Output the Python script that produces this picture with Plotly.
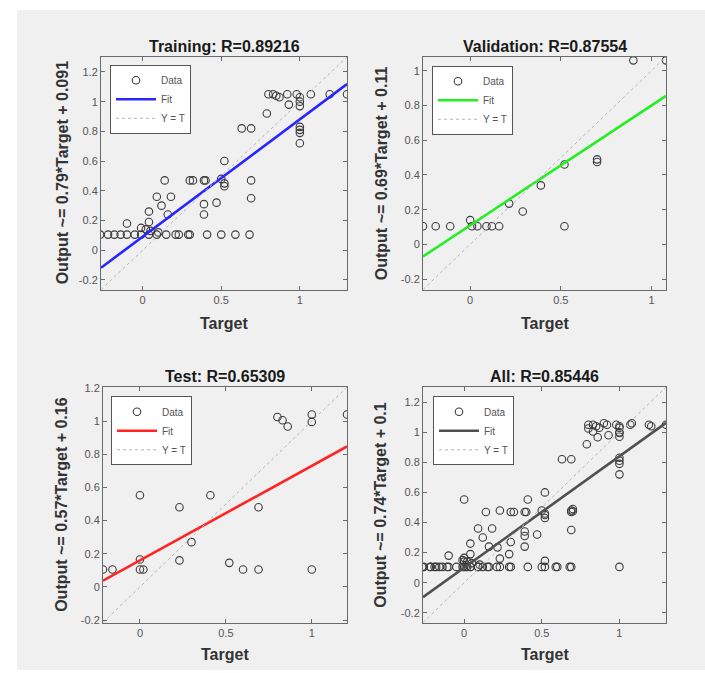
import numpy as np
import plotly.graph_objects as go

# ---------------- data ----------------
train_t = [-0.27, -0.22, -0.18, -0.14, -0.10, -0.05, -0.01, 0.04, 0.09, 0.15, 0.21, 0.23, 0.29, 0.30, 0.41, 0.50, 0.59, 0.68,
           -0.10, -0.01, 0.02, 0.05, 0.10, 0.04, 0.04, 0.09, 0.12, 0.16, 0.18, 0.14, 0.30, 0.32, 0.39, 0.40,
           0.52, 0.50, 0.52, 0.52, 0.69, 0.69, 0.39, 0.39, 0.47, 0.63, 0.69, 0.79, 0.80, 0.83, 0.85, 0.87,
           0.92, 0.93, 0.98, 1.00, 1.00, 1.00, 1.00, 1.00, 1.00, 1.00, 1.07, 1.19, 1.30]
train_y = [0.105] * 18 + \
          [0.18, 0.15, 0.14, 0.13, 0.12, 0.19, 0.26, 0.36, 0.30, 0.24, 0.36, 0.47, 0.47, 0.47, 0.47, 0.47,
           0.60, 0.48, 0.45, 0.43, 0.47, 0.35, 0.31, 0.24, 0.32, 0.82, 0.82, 0.92, 1.05, 1.05, 1.04, 1.03,
           1.05, 0.98, 1.05, 1.03, 1.00, 0.97, 0.83, 0.81, 0.79, 0.72, 1.05, 1.05, 1.05]

val_t = [-0.26, -0.19, -0.11, 0.00, 0.01, 0.04, 0.09, 0.12, 0.16, 0.215, 0.29, 0.39, 0.52, 0.52, 0.70, 0.70, 0.90, 1.08]
val_y = [0.105, 0.105, 0.105, 0.14, 0.105, 0.105, 0.105, 0.105, 0.105, 0.235, 0.19, 0.34, 0.46, 0.105, 0.49, 0.475, 1.06, 1.06]

test_t = [-0.215, -0.16, 0.00, 0.00, 0.02, 0.00, 0.23, 0.23, 0.30, 0.41, 0.52, 0.60, 0.69, 0.69, 0.80, 0.83, 0.86, 1.00, 1.00, 1.00, 1.205]
test_y = [0.105, 0.105, 0.165, 0.105, 0.105, 0.553, 0.48, 0.16, 0.27, 0.553, 0.145, 0.105, 0.105, 0.48, 1.025, 1.005, 0.967, 1.04, 0.995, 0.105, 1.04]

all_t = train_t + val_t + test_t
all_y = train_y + val_y + test_y

titles = ["Training: R=0.89216", "Validation: R=0.87554", "Test: R=0.65309", "All: R=0.85446"]
slopes = [0.79, 0.69, 0.57, 0.74]
intercepts = [0.091, 0.11, 0.16, 0.1]
ylabels = ["Output ~= 0.79*Target + 0.091", "Output ~= 0.69*Target + 0.11",
           "Output ~= 0.57*Target + 0.16", "Output ~= 0.74*Target + 0.1"]
limits = [(-0.265, 1.30), (-0.26, 1.08), (-0.215, 1.205), (-0.265, 1.30)]
fit_colors = ["#2626ff", "#22ee22", "#ff2424", "#505050"]
xticks = [[0, 0.5, 1], [0, 0.5, 1], [0, 0.5, 1], [0, 0.5, 1]]
yticks = [[-0.2, 0, 0.2, 0.4, 0.6, 0.8, 1, 1.2], [-0.2, 0, 0.2, 0.4, 0.6, 0.8, 1],
          [-0.2, 0, 0.2, 0.4, 0.6, 0.8, 1, 1.2], [-0.2, 0, 0.2, 0.4, 0.6, 0.8, 1, 1.2]]
points = [(train_t, train_y), (val_t, val_y), (test_t, test_y), (all_t, all_y)]

# ---------------- layout (pixel boxes) ----------------
W, H = 705, 673
boxes = [(101, 347, 52.7, 288), (423, 666, 52.5, 288), (103, 347, 386.7, 625), (423, 666, 386.7, 625)]
legend_pos = [(110, 60.5), (432, 61.5), (111, 396), (433, 396)]
title_y = [42, 42, 376, 376]
xlab_y = [322, 322, 657, 657]
ylab_x = [62, 381, 62, 381]

FONT = "Liberation Sans, Arial, Helvetica, sans-serif"
AXC = "#6a6a6a"

def px(x):
    return x / W

def py(y):
    return 1 - y / H

fig = go.Figure()
annotations = []
layout = dict()

for i in range(4):
    n = "" if i == 0 else str(i + 1)
    xa, ya = "x" + n, "y" + n
    leg = "legend" if i == 0 else "legend" + str(i + 1)
    lo, hi = limits[i]
    t, y = points[i]
    fig.add_trace(go.Scatter(x=t, y=y, mode="markers", name="Data", xaxis=xa, yaxis=ya, legend=leg,
                             marker=dict(symbol="circle-open", size=7.5, color="#3a3a3a", line=dict(width=1.1))))
    xs = np.array([lo, hi])
    fig.add_trace(go.Scatter(x=xs, y=slopes[i] * xs + intercepts[i], mode="lines", name="Fit",
                             xaxis=xa, yaxis=ya, legend=leg,
                             line=dict(color=fit_colors[i], width=2.6)))
    fig.add_trace(go.Scatter(x=xs, y=xs, mode="lines", name="Y = T", xaxis=xa, yaxis=ya, legend=leg,
                             line=dict(color="#b4b4b4", width=1, dash="dot")))

    x0, x1, y0, y1 = boxes[i]
    axcommon = dict(showline=True, linecolor=AXC, linewidth=1, mirror="allticks", ticks="inside",
                    ticklen=4, tickcolor=AXC, showgrid=False, zeroline=False,
                    tickfont=dict(family=FONT, size=11, color="#555555"))
    layout["xaxis" + n] = dict(domain=[px(x0), px(x1)], range=[lo, hi], anchor=ya,
                               tickvals=xticks[i], ticktext=[f"{v:g}" for v in xticks[i]], **axcommon)
    layout["yaxis" + n] = dict(domain=[py(y1), py(y0)], range=[lo, hi], anchor=xa,
                               tickvals=yticks[i], ticktext=[f"{v:g}" for v in yticks[i]], **axcommon)
    lx, ly = legend_pos[i]
    layout[leg] = dict(x=px(lx), y=py(ly), xanchor="left", yanchor="top", bgcolor="white",
                       bordercolor="#555555", borderwidth=1, font=dict(family=FONT, size=10, color="#555555"),
                       tracegroupgap=0, itemwidth=40)

    cx = px((x0 + x1) / 2)
    annotations.append(dict(text="<b>" + titles[i] + "</b>", x=cx, y=py(title_y[i]), xref="paper", yref="paper",
                            showarrow=False, font=dict(family=FONT, size=16, color="#1a1a1a"),
                            xanchor="center", yanchor="middle"))
    annotations.append(dict(text="<b>Target</b>", x=cx, y=py(xlab_y[i]), xref="paper", yref="paper",
                            showarrow=False, font=dict(family=FONT, size=16, color="#333333"),
                            xanchor="center", yanchor="middle"))
    annotations.append(dict(text="<b>" + ylabels[i] + "</b>", x=px(ylab_x[i]), y=py((y0 + y1) / 2),
                            xref="paper", yref="paper", textangle=-90, showarrow=False,
                            font=dict(family=FONT, size=16, color="#333333"),
                            xanchor="center", yanchor="middle"))

fig.update_layout(
    width=W, height=H, margin=dict(l=0, r=0, t=0, b=0),
    paper_bgcolor="white", plot_bgcolor="white",
    annotations=annotations,
    shapes=[dict(type="rect", xref="paper", yref="paper", x0=px(17), x1=1.0, y0=0, y1=py(5),
                 fillcolor="#f0f0f0", line=dict(width=0), layer="below")],
    **layout,
)

fig.write_html("out.html")
